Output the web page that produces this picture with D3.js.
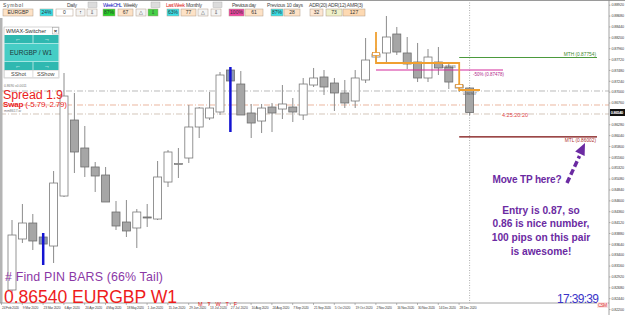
<!DOCTYPE html>
<html>
<head>
<meta charset="utf-8">
<script src="https://cdn.jsdelivr.net/npm/d3@7"></script>
<style>
html, body { margin: 0; padding: 0; background: #fff; }
svg { display: block; font-family: "Liberation Sans", Arial, sans-serif; }
</style>
</head>
<body>
<svg id="chart" width="625" height="315"></svg>
<script>
// EURGBP W1 candles
var opens  = [0.82621, 0.83747, 0.84100, 0.83791, 0.83592, 0.84696, 0.86374, 0.85756, 0.85337, 0.85160,
              0.84343, 0.84122, 0.83990, 0.84233, 0.84188, 0.85005, 0.85403, 0.85535, 0.86220, 0.86419,
              0.86551, 0.87478, 0.87169, 0.86529, 0.86352, 0.86661, 0.86617, 0.86661, 0.86485, 0.87147,
              0.87324, 0.87191, 0.86971, 0.86794, 0.87258, 0.87765, 0.87854, 0.88273, 0.87854, 0.87655,
              0.87302, 0.87655, 0.87545, 0.87081, 0.87081];
var highs  = [0.84166, 0.84520, 0.84299, 0.83879, 0.85248, 0.87412, 0.86971, 0.86242, 0.85447, 0.85337,
              0.84586, 0.84608, 0.84409, 0.84520, 0.85469, 0.85712, 0.85756, 0.86706, 0.86661, 0.86993,
              0.87434, 0.87545, 0.87456, 0.86728, 0.86728, 0.86750, 0.87147, 0.86860, 0.87302, 0.87523,
              0.87478, 0.87302, 0.87258, 0.87478, 0.88185, 0.87964, 0.88671, 0.88428, 0.88207, 0.88075,
              0.87942, 0.87986, 0.87633, 0.87191, 0.87103];
var lows   = [0.82555, 0.83659, 0.83504, 0.83173, 0.83217, 0.84674, 0.85204, 0.85116, 0.84785, 0.84564,
              0.83946, 0.83791, 0.83548, 0.84012, 0.84166, 0.84895, 0.85094, 0.85425, 0.85977, 0.86374,
              0.86485, 0.86109, 0.86485, 0.85977, 0.86087, 0.86109, 0.86396, 0.86330, 0.86374, 0.87103,
              0.86926, 0.86573, 0.86639, 0.86639, 0.87191, 0.87655, 0.87633, 0.87810, 0.87500, 0.87213,
              0.87213, 0.87368, 0.87059, 0.86993, 0.86485];
var closes = [0.83835, 0.84100, 0.83703, 0.83636, 0.84983, 0.86904, 0.85668, 0.85337, 0.85138, 0.84564,
              0.84034, 0.83924, 0.84343, 0.84222, 0.85116, 0.85668, 0.85414, 0.86220, 0.86639, 0.86639,
              0.87368, 0.87236, 0.86485, 0.86308, 0.86639, 0.86529, 0.86728, 0.86551, 0.87169, 0.87302,
              0.87103, 0.86971, 0.86750, 0.87302, 0.87699, 0.87832, 0.88207, 0.87876, 0.87611, 0.87302,
              0.87765, 0.87523, 0.87213, 0.87147, 0.86540];
var pinBars = [3, 21];

// time axis labels, one every two bars
var dateLabels = ["24 Feb 2020", "9 Mar 2020", "23 Mar 2020", "6 Apr 2020", "20 Apr 2020", "4 May 2020",
                  "18 May 2020", "1 Jun 2020", "15 Jun 2020", "29 Jun 2020", "13 Jul 2020", "27 Jul 2020",
                  "10 Aug 2020", "24 Aug 2020", "7 Sep 2020", "21 Sep 2020", "5 Oct 2020", "19 Oct 2020",
                  "2 Nov 2020", "16 Nov 2020", "30 Nov 2020", "14 Dec 2020", "28 Dec 2020"];

// the 0.86520 label sits under the current price box, so it is left out
var priceTicks = [0.88920, 0.88680, 0.88440, 0.88200, 0.87960, 0.87720, 0.87480, 0.87240, 0.87000, 0.86760,
                  0.86280, 0.86040, 0.85800, 0.85560, 0.85320, 0.85080, 0.84840, 0.84600, 0.84360,
                  0.84120, 0.83880, 0.83640, 0.83400, 0.83160, 0.82920, 0.82680, 0.82440, 0.82200];

var lastPrice = 0.86540;
var dashLevels = [0.87015, 0.86706, 0.86507];
var monthHigh = 0.87754, monthLow = 0.86002, halfLevel = 0.87478;
var orangeSteps = [[35, 0.88317], [35, 0.87633], [43, 0.87633], [43, 0.87037], [45, 0.87037]];
var orangeBoxes = [[35, 0.87832], [43, 0.87125]];

var svg = d3.select("#chart");
var plotRight = 609, plotBottom = 303;

var x = d3.scaleLinear().domain([0, 44]).range([12, 469.6]);
var y = d3.scaleLinear().domain([0.822, 0.890]).range([309.06, 1.09]);

var candles = opens.map(function (o, i) {
  return { i: i, o: o, h: highs[i], l: lows[i], c: closes[i], pin: pinBars.indexOf(i) >= 0 };
});

svg.append("rect").attr("width", 625).attr("height", 315).attr("fill", "#fff");

// dashed level lines
var dashColors = ["#a9a9a9", "#e6a486", "#c9b7a8"];
svg.selectAll("line.lvl").data(dashLevels).enter().append("line")
  .attr("class", "lvl")
  .attr("x1", 0).attr("x2", plotRight)
  .attr("y1", function (d) { return y(d); }).attr("y2", function (d) { return y(d); })
  .attr("stroke", function (d, i) { return dashColors[i]; })
  .attr("stroke-width", 0.8)
  .attr("stroke-dasharray", "6,2,1,2");

// current bar separator
svg.append("line")
  .attr("x1", x(44)).attr("x2", x(44)).attr("y1", 0).attr("y2", plotBottom)
  .attr("stroke", "#999").attr("stroke-width", 0.8).attr("stroke-dasharray", "1,1.5");

// candles
var cg = svg.append("g");
cg.selectAll("line.wick").data(candles).enter().append("line")
  .attr("class", "wick")
  .attr("x1", function (d) { return x(d.i); }).attr("x2", function (d) { return x(d.i); })
  .attr("y1", function (d) { return y(d.h); }).attr("y2", function (d) { return y(d.l); })
  .attr("stroke", "#8c8c8c").attr("stroke-width", 1);

cg.selectAll("rect.body").data(candles).enter().append("rect")
  .attr("class", "body")
  .attr("x", function (d) { return x(d.i) - 4; })
  .attr("width", 8)
  .attr("y", function (d) { return y(Math.max(d.o, d.c)); })
  .attr("height", function (d) { return Math.max(1, Math.abs(y(d.o) - y(d.c))); })
  .attr("fill", function (d) {
    if (d.pin) return "#8a96b4";
    return d.c >= d.o ? "#ffffff" : "#a6a6a6";
  })
  .attr("stroke", function (d) { return d.c >= d.o ? "#7a7a7a" : "#6e6e6e"; })
  .attr("stroke-width", 0.8);

// pin bar tails
cg.selectAll("line.pin").data(candles.filter(function (d) { return d.pin; })).enter().append("line")
  .attr("class", "pin")
  .attr("x1", function (d) { return x(d.i); }).attr("x2", function (d) { return x(d.i); })
  .attr("y1", function (d) { return y(d.h); }).attr("y2", function (d) { return y(d.l); })
  .attr("stroke", "#1414d2").attr("stroke-width", 2.5);

// month levels and 50% line
svg.append("line").attr("x1", x(43)).attr("x2", 597)
  .attr("y1", y(monthHigh)).attr("y2", y(monthHigh))
  .attr("stroke", "#4b9a3c").attr("stroke-width", 1.2);
svg.append("text").attr("x", 596).attr("y", y(monthHigh) - 1.5).attr("text-anchor", "end")
  .attr("font-size", 4.8).attr("fill", "#3f8a2f").text("MTH (" + monthHigh.toFixed(5) + ")");

svg.append("line").attr("x1", x(43)).attr("x2", 597)
  .attr("y1", y(monthLow)).attr("y2", y(monthLow))
  .attr("stroke", "#7a0a0a").attr("stroke-width", 1.2);
svg.append("text").attr("x", 596).attr("y", y(monthLow) + 5).attr("text-anchor", "end")
  .attr("font-size", 4.8).attr("fill", "#b03434").text("MTL (" + monthLow.toFixed(5) + ")");

svg.append("line").attr("x1", x(35)).attr("x2", 503)
  .attr("y1", y(halfLevel)).attr("y2", y(halfLevel))
  .attr("stroke", "#d42a9c").attr("stroke-width", 1.2);
svg.append("text").attr("x", 473).attr("y", y(halfLevel) + 5.5)
  .attr("font-size", 4.5).attr("fill", "#b02a8a").text("-50% (" + halfLevel.toFixed(5) + ")");

// orange step indicator
svg.append("path")
  .attr("d", d3.line().x(function (d) { return x(d[0]); }).y(function (d) { return y(d[1]); })(orangeSteps))
  .attr("fill", "none").attr("stroke", "#f0a030").attr("stroke-width", 1.8);
svg.selectAll("rect.obox").data(orangeBoxes).enter().append("rect")
  .attr("class", "obox")
  .attr("x", function (d) { return x(d[0]) - 3.5; }).attr("width", 7)
  .attr("y", function (d) { return y(d[1]) - 1.5; }).attr("height", 3)
  .attr("fill", "#fff").attr("stroke", "#e08a20").attr("stroke-width", 0.7);
svg.append("text").attr("x", 442).attr("y", y(orangeSteps[1][1]) + 4.5).attr("font-size", 3.8)
  .attr("fill", "#555").text(orangeSteps[1][1].toFixed(5));
svg.append("text").attr("x", 463).attr("y", y(orangeSteps[3][1]) + 5).attr("font-size", 3.8)
  .attr("fill", "#555").text("0.86907");

svg.append("text").attr("x", 502).attr("y", y(dashLevels[2]) + 3)
  .attr("font-size", 5.5).attr("fill", "#e04646").text("4:25:20:20");

// left gray edge and frame
svg.append("rect").attr("x", 0).attr("y", 18).attr("width", 2.5).attr("height", plotBottom - 18).attr("fill", "#b4b4b4");
svg.append("line").attr("x1", 0).attr("x2", 625).attr("y1", 0.5).attr("y2", 0.5).attr("stroke", "#9a9a9a");
svg.append("line").attr("x1", 0).attr("x2", plotRight).attr("y1", plotBottom).attr("y2", plotBottom)
  .attr("stroke", "#8a8a8a").attr("stroke-width", 0.8);
svg.append("line").attr("x1", plotRight).attr("x2", plotRight).attr("y1", 0).attr("y2", 315)
  .attr("stroke", "#8a8a8a").attr("stroke-width", 0.8);

// time axis
var dg = svg.append("g");
dg.selectAll("text").data(dateLabels).enter().append("text")
  .attr("x", function (d, k) { return x(k * 2) - 10; })
  .attr("y", 308.6)
  .attr("font-size", 3.4).attr("fill", "#444")
  .attr("textLength", function (d) { return d.length > 10 ? 17 : 15.5; })
  .text(function (d) { return d; });
dg.selectAll("line").data(dateLabels).enter().append("line")
  .attr("x1", function (d, k) { return x(k * 2) - 10.5; }).attr("x2", function (d, k) { return x(k * 2) - 10.5; })
  .attr("y1", plotBottom).attr("y2", plotBottom + 2).attr("stroke", "#777").attr("stroke-width", 0.5);

// price axis
var yAxis = d3.axisRight(y).tickValues(priceTicks).tickFormat(d3.format(".5f")).tickSize(1.5).tickPadding(1);
var ag = svg.append("g").attr("transform", "translate(" + plotRight + ",0)").call(yAxis);
ag.select(".domain").remove();
ag.selectAll("text").attr("font-size", 3.8).attr("fill", "#444").attr("textLength", 12.5)
  .attr("font-family", "Liberation Sans, Arial, sans-serif");
ag.selectAll("line").attr("stroke", "#777").attr("stroke-width", 0.5);
svg.append("rect").attr("x", plotRight + 1).attr("y", y(lastPrice) - 3.5).attr("width", 15).attr("height", 7).attr("fill", "#111");
svg.append("text").attr("x", plotRight + 1.8).attr("y", y(lastPrice) + 1.5).attr("font-size", 4)
  .attr("fill", "#fff").attr("font-weight", "bold").attr("textLength", 12.5).text(lastPrice.toFixed(5));

// texts on the chart
svg.append("text").attr("x", 3).attr("y", 98.5).attr("font-size", 12.5).attr("fill", "#ea1e1e")
  .attr("textLength", 60).text("Spread 1.9");
var sw = svg.append("text").attr("x", 3).attr("y", 107).attr("font-size", 8).attr("fill", "#ea1e1e")
  .attr("textLength", 64);
sw.append("tspan").attr("font-weight", "bold").text("Swap");
sw.append("tspan").text(" (-5.79, 2.79)");
svg.append("text").attr("x", 4).attr("y", 86.6).attr("font-size", 3.3).attr("fill", "#777").text("0.8690 ±0.0011");
svg.append("text").attr("x", 4).attr("y", 112).attr("font-size", 3.5).attr("fill", "#777").text("mm8617.w");

svg.append("text").attr("x", 5).attr("y", 280.5).attr("font-size", 12.4).attr("fill", "#8b38a6")
  .attr("textLength", 158).text("# Find PIN BARS (66% Tail)");
svg.append("text").attr("x", 4).attr("y", 303).attr("font-size", 17.6).attr("fill", "#ee1c1c")
  .attr("textLength", 173).text(lastPrice.toFixed(5) + " EURGBP W1");
svg.append("text").attr("x", 198).attr("y", 305.6).attr("font-size", 5.5).attr("fill", "#e02020")
  .attr("textLength", 39).text("M T W T F");
svg.append("text").attr("x", 557).attr("y", 302.5).attr("font-size", 12).attr("fill", "#3a34c8")
  .attr("textLength", 42).text("17:39:39");
svg.append("rect").attr("x", 597).attr("y", 302).attr("width", 11).attr("height", 6).attr("fill", "#fbe4e4");
svg.append("text").attr("x", 598).attr("y", 306.6).attr("font-size", 4.6).attr("fill", "#e03a3a")
  .attr("textLength", 9).text("CSM");

// annotation
var purple = "#6b2aa2";
svg.append("text").attr("x", 527).attr("y", 182.5).attr("text-anchor", "middle").attr("font-size", 10)
  .attr("font-weight", "bold").attr("fill", purple).attr("textLength", 69).text("Move TP here?");
var note = ["Entry is 0.87, so", "0.86 is nice number,", "100 pips on this pair", "is awesome!"];
svg.selectAll("text.note").data(note).enter().append("text")
  .attr("class", "note")
  .attr("x", 541).attr("y", function (d, k) { return 213.5 + k * 13.7; })
  .attr("text-anchor", "middle").attr("font-size", 10.2).attr("font-weight", "bold")
  .attr("fill", purple).text(function (d) { return d; });
svg.append("line").attr("x1", 567).attr("y1", 183).attr("x2", 579.5).attr("y2", 156)
  .attr("stroke", purple).attr("stroke-width", 3.5).attr("stroke-dasharray", "6,3");
svg.append("path").attr("d", "M585,143 L584.6,156 L575.2,151.6 Z").attr("fill", purple);

// top toolbar
var tb = svg.append("g").attr("font-size", 5);
var heads = [
  { t: "Symbol", x: 3, w: 20, c: "#444" }, { t: "Daily", x: 67, w: 10, c: "#444" },
  { t: "Week OHL", x: 103, w: 19, c: "#2323c4" }, { t: "Weekly", x: 123.5, w: 14, c: "#444" },
  { t: "Last Week", x: 166, w: 19, c: "#e02424" }, { t: "Monthly", x: 186, w: 16, c: "#444" },
  { t: "Previous day", x: 232, w: 24, c: "#444" }, { t: "Previous 10 days", x: 267, w: 36, c: "#444" },
  { t: "ADR(20) ADR(12) AMR(3)", x: 309, w: 54, c: "#444" }
];
tb.selectAll("text.hd").data(heads).enter().append("text")
  .attr("class", "hd").attr("x", function (d) { return d.x; }).attr("y", 6.8)
  .attr("textLength", function (d) { return d.w; })
  .attr("fill", function (d) { return d.c; }).text(function (d) { return d.t; });
[88, 151, 213].forEach(function (bx) {
  tb.append("rect").attr("x", bx).attr("y", 2).attr("width", 9).attr("height", 5.5)
    .attr("fill", "#dcdcdc").attr("stroke", "#aaa").attr("stroke-width", 0.4);
});
var cells = [
  { t: "EURGBP", x: 3, w: 30, f: "#fde2c6" }, { t: "24%", x: 40, w: 13, f: "#38dfe6" },
  { t: "0", x: 56, w: 17, f: "#ffffff" }, { t: "\u2191", x: 76, w: 9, f: "#f4f4f4" },
  { t: "\u21e9", x: 87, w: 10, f: "#f4f4f4" }, { t: "87%", x: 103, w: 12, f: "#26d126" },
  { t: "67", x: 118, w: 15, f: "#fde2c6" }, { t: "\u25b3", x: 136, w: 10, f: "#f4f4f4" },
  { t: "\u21e9", x: 148, w: 10, f: "#46d046" }, { t: "63%", x: 167, w: 12, f: "#38dfe6" },
  { t: "77", x: 181, w: 15, f: "#fde2c6" }, { t: "\u25b3", x: 198, w: 10, f: "#f4f4f4" },
  { t: "\u21e9", x: 211, w: 10, f: "#f4f4f4" }, { t: "100%", x: 229, w: 15, f: "#ee44a2" },
  { t: "61", x: 245, w: 18, f: "#fde2c6" }, { t: "87%", x: 271, w: 12, f: "#38dfe6" },
  { t: "28", x: 284, w: 16, f: "#fde2c6" }, { t: "32", x: 310, w: 13, f: "#fde6d2" },
  { t: "73", x: 326, w: 16, f: "#eef0c8" }, { t: "127", x: 343, w: 22, f: "#fdd9b2" }
];
var cg2 = tb.selectAll("g.cell").data(cells).enter().append("g").attr("class", "cell");
cg2.append("rect").attr("x", function (d) { return d.x; }).attr("y", 9).attr("width", function (d) { return d.w; })
  .attr("height", 7).attr("fill", function (d) { return d.f; }).attr("stroke", "#b09a86").attr("stroke-width", 0.5);
cg2.append("text").attr("x", function (d) { return d.x + d.w / 2; }).attr("y", 14.3).attr("text-anchor", "middle")
  .attr("font-size", 5).attr("fill", "#333").text(function (d) { return d.t; });

// WMAX switcher panel
var pg = svg.append("g").attr("font-size", 5.5);
pg.append("rect").attr("x", 4).attr("y", 27).attr("width", 55).attr("height", 51)
  .attr("fill", "#fff").attr("stroke", "#b8b8b8").attr("stroke-width", 0.6);
pg.append("text").attr("x", 6).attr("y", 33).attr("fill", "#333").text("WMAX-Switcher");
pg.append("rect").attr("x", 52.5).attr("y", 27.5).attr("width", 6).attr("height", 6.5)
  .attr("fill", "#fff").attr("stroke", "#999").attr("stroke-width", 0.5);
pg.append("text").attr("x", 55.5).attr("y", 32.6).attr("text-anchor", "middle").attr("font-size", 6)
  .attr("font-weight", "bold").attr("fill", "#333").text("\u00d7");
[35, 62].forEach(function (ry) {
  pg.append("rect").attr("x", 4.5).attr("y", ry).attr("width", 54).attr("height", 8).attr("fill", "#2fb8b0");
  pg.append("line").attr("x1", 33).attr("x2", 33).attr("y1", ry).attr("y2", ry + 8).attr("stroke", "#fff").attr("stroke-width", 0.6);
  pg.append("text").attr("x", 18).attr("y", ry + 6).attr("text-anchor", "middle").attr("fill", "#fff").attr("font-size", 6).text("\u2190");
  pg.append("text").attr("x", 47).attr("y", ry + 6).attr("text-anchor", "middle").attr("fill", "#fff").attr("font-size", 6).text("\u2192");
});
pg.append("rect").attr("x", 4.5).attr("y", 43.5).attr("width", 54).attr("height", 18).attr("fill", "#46cdc5");
pg.append("text").attr("x", 31).attr("y", 54.8).attr("text-anchor", "middle").attr("font-size", 6.5)
  .attr("fill", "#1e3a3a").text("EURGBP  /  W1");
pg.append("rect").attr("x", 4.5).attr("y", 70.5).attr("width", 28.5).attr("height", 7)
  .attr("fill", "#fff").attr("stroke", "#ccc").attr("stroke-width", 0.5);
pg.append("rect").attr("x", 33).attr("y", 70.5).attr("width", 25.5).attr("height", 7)
  .attr("fill", "#fff").attr("stroke", "#ccc").attr("stroke-width", 0.5);
pg.append("text").attr("x", 11).attr("y", 76).attr("fill", "#444").text("SShot");
pg.append("text").attr("x", 37).attr("y", 76).attr("fill", "#444").text("SShow");
</script>
</body>
</html>
